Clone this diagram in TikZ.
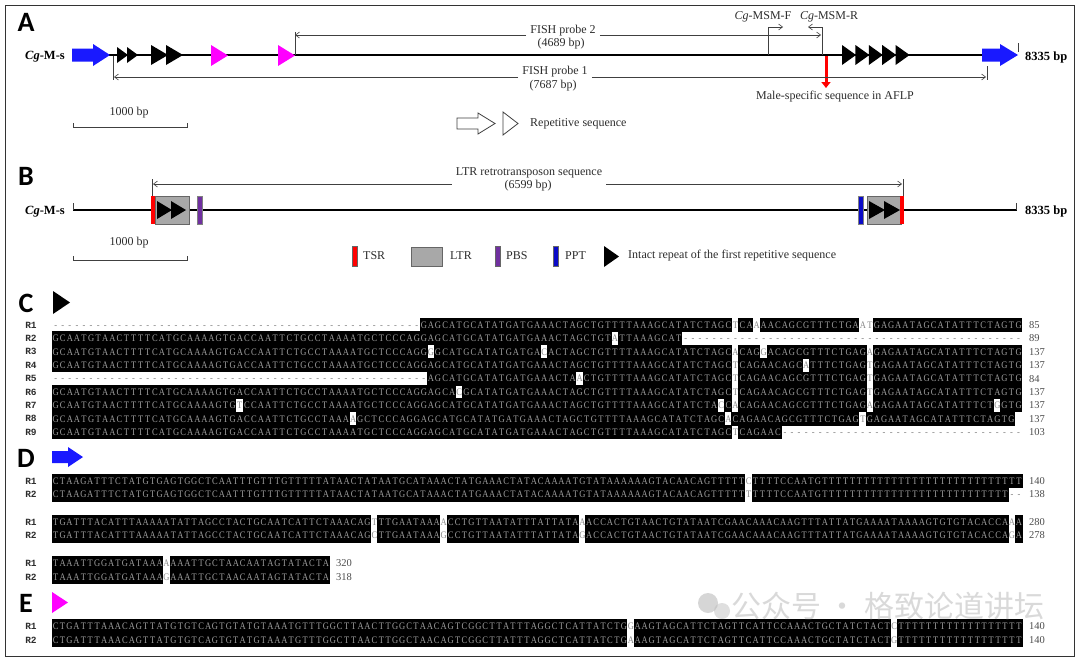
\documentclass[tikz,border=0pt]{standalone}
\usepackage{fontspec}
\setmainfont{Liberation Serif}
\newfontfamily\seqfont{Liberation Serif}[FakeStretch=0.85]
\newfontfamily\rlabfont{Liberation Mono}
\newfontfamily\panelfont{Carlito}
\newfontfamily\cjkfont{Noto Sans CJK SC}
\usetikzlibrary{arrows.meta}
\definecolor{onblk}{RGB}{160,160,160}
\definecolor{onwht}{RGB}{135,135,135}
\definecolor{txtgray}{RGB}{45,45,45}
\definecolor{arrblue}{RGB}{25,25,255}
\definecolor{mag}{RGB}{255,0,255}
\definecolor{pbs}{RGB}{112,48,160}
\definecolor{ppt}{RGB}{10,10,200}
\definecolor{ltrgray}{RGB}{168,168,168}
\tikzset{
 seqrow/.style={font=\seqfont\fontsize{10}{10}\selectfont, inner sep=0pt, text height=6.6pt, text depth=0pt, anchor=west},
 rowlab/.style={font=\rlabfont\bfseries\fontsize{9.5}{9.5}\selectfont, text=txtgray, inner sep=0pt},
 numlab/.style={font=\fontsize{10.5}{10.5}\selectfont, text=black!70, anchor=west, inner sep=0pt},
 panel/.style={font=\panelfont\bfseries\fontsize{28}{28}\selectfont, inner sep=0pt},
 ann/.style={font=\fontsize{12}{12}\selectfont, text=txtgray, inner xsep=4pt, inner ysep=1pt},
 boldlab/.style={font=\bfseries\fontsize{12.5}{12.5}\selectfont, inner sep=0pt},
 thinarr/.style={draw=black!75, line width=0.6pt, -{Straight Barb[length=4pt,width=6pt]}},
 tick/.style={draw=black!75, line width=0.6pt},
 mainline/.style={draw=black, line width=1.8pt},
 scalebar/.style={draw=black!75, line width=0.7pt},
 frame/.style={draw=black!80, line width=1.4pt},
 ltrbox/.style={fill=ltrgray, draw=black!60, line width=0.7pt},
}
\newlength\dnaw
\newcommand\dnach[2]{\makebox[\dnaw][c]{\textcolor{#1}{#2}}}
\newcommand\dnafill[4]{\fill[black] ({#1-0.3},{#2-#4/2-0.3}) rectangle ({#1+#3+0.3},{#2+#4/2+0.3});}
\newcommand\dnanode[4]{\node[seqrow] (#1) at (#2,#3) {#4};}
\newcommand\blockarrow[8][fill=black]{\path[#1] (#2,#7) -- (#4,#7) -- (#4,#5) -- (#3,{(#5+#6)/2}) -- (#4,#6) -- (#4,#8) -- (#2,#8) -- cycle;}
\newcommand\tri[5][fill=black]{\path[#1] (#2,#4) -- (#3,{(#4+#5)/2}) -- (#2,#5) -- cycle;}
\ExplSyntaxOn
\int_new:N \l_dna_i_int
\tl_new:N \l_dna_x_tl
\tl_new:N \l_dna_txt_tl
\str_new:N \l_dna_s_str
\cs_new:Npn \dashes #1 { \prg_replicate:nn {#1} {-} }
\cs_new:Npn \Ts #1 { \prg_replicate:nn {#1} {T} }
\NewDocumentCommand \dnarow { m m m m m m }
 {
  \str_set:Nx \l_dna_s_str {#6}
  \tl_clear:N \l_dna_txt_tl
  \int_zero:N \l_dna_i_int
  \dim_set:Nn \dnaw {#4pt}
  \str_map_inline:Nn \l_dna_s_str
   {
    \int_incr:N \l_dna_i_int
    \str_if_in:nnTF {ACGT} {##1}
     {
      \tl_set:Nx \l_dna_x_tl { \fp_eval:n { (#2) + (\l_dna_i_int - 1) * (#4) } }
      \exp_args:NV \dnafill \l_dna_x_tl {#3} {#4} {#5}
      \tl_put_right:Nn \l_dna_txt_tl { \dnach{onblk}{##1} }
     }
     {
      \str_if_eq:nnTF {##1} {-}
       { \tl_put_right:Nn \l_dna_txt_tl { \dnach{onwht}{-} } }
       { \tl_put_right:Nx \l_dna_txt_tl { \exp_not:N \dnach{onwht}{ \str_uppercase:n {##1} } } }
     }
   }
  \exp_args:NnnnV \dnanode {#1} {#2} {#3} \l_dna_txt_tl
 }
\ExplSyntaxOff
\def\cA{GCAATGTAACTTTTCATGCAAAAGTGACCAATTCTGCCTAAAATGCTCCCAGG}
\def\cB{AGCATGCATATGATGAAACTAGCTGTTTTAAAGCATATCTAGC}
\def\cC{CAGAACAGCGTTTCTGAG}
\def\cD{GAGAATAGCATATTTCTAGTG}
\def\dA{CTAAGATTTCTATGTGAGTGGCTCAATTTGTTTGTTTTTATAACTATAATGCATAAACTATGAAACTATACAAAATGTATAAAAAAGTACAACAGTTTTT}
\def\dB{TGATTTACATTTAAAAATATTAGCCTACTGCAATCATTCTAAACAG}
\def\dC{ACCACTGTAACTGTATAATCGAACAAACAAGTTTATTATGAAAATAAAAGTGTGTACACCA}
\def\eA{CTGATTTAAACAGTTATGTGTCAGTGTATGTAAATGTTTGGCTTAACTTGGCTAACAGTCGGCTTATTTAGGCTCATTATCTG}
\def\eB{AAGTAGCATTCTAGTTCATTCCAAACTGCTATCTACT}
\begin{document}
\begin{tikzpicture}[x=1pt,y=-1pt]
\useasboundingbox (0,0) rectangle (1080,662);
\fill[white] (0,0) rectangle (1080,662);
\draw[frame] (5.5,5.5) rectangle (1074.5,656.5);

% ---------------- Panel A
\node[panel] (labA) at (26,22) {A};
\draw[mainline] (108,55) -- (984,55);
\node[boldlab, anchor=east] (cgA) at (65,57) {\textit{Cg}-M-s};
\blockarrow[fill=arrblue]{72}{110}{93}{44}{66}{48.5}{61.5}
\tri{117}{128}{47}{63}
\tri{127}{138}{47}{63}
\tri{151}{168}{45}{65}
\tri{166}{183}{45}{65}
\tri[fill=mag]{211}{228}{45}{66}
\tri[fill=mag]{278}{295}{45}{66}
\foreach \i in {0,...,4} {\tri{842+13.4*\i}{856+13.4*\i}{45}{65}}
\blockarrow[fill=arrblue]{982}{1018}{1000}{44}{66}{48.5}{61.5}
\coordinate (endA) at (1018.5,43);
\draw[tick] (endA) -- ++(0,9);
\node[boldlab, anchor=west] (lenA) at (1025,57) {8335 bp};
% FISH probe 2
\coordinate (p2L) at (295,35);
\coordinate (p2R) at (821,35);
\draw[tick] (295,32) -- (295,55);
\node[ann] (fp2) at (563,31) {FISH probe 2};
\node[ann] (fp2b) at (561,44) {(4689 bp)};
\draw[thinarr] (fp2.west |- p2L) -- (p2L);
\draw[thinarr] (fp2.east |- p2R) -- (p2R);
% primers
\coordinate (fB) at (768,55);
\coordinate (fT) at (768,27);
\coordinate (fE) at (783,27);
\coordinate (rB) at (822,55);
\coordinate (rT) at (822,27);
\coordinate (rE) at (808,27);
\draw[thinarr] (fB) -- (fT) -- (fE);
\draw[thinarr] (rB) -- (rT) -- (rE);
\node[ann] (prF) at (763,17) {\textit{Cg}-MSM-F};
\node[ann] (prR) at (829,17) {\textit{Cg}-MSM-R};
% male-specific
\coordinate (msT) at (826,56);
\coordinate (msB) at (826,88);
\draw[draw=red, line width=3pt, -{Triangle[length=6pt,width=9pt]}] (msT) -- (msB);
\node[ann] (msl) at (835,97) {Male-specific sequence in AFLP};
% FISH probe 1
\coordinate (p1L) at (114,77);
\coordinate (p1R) at (986,77);
\draw[tick] (113,56) -- (113,80);
\draw[tick] (987.5,66) -- (987.5,80);
\node[ann] (fp1) at (555,72) {FISH probe 1};
\node[ann] (fp1b) at (553,86) {(7687 bp)};
\draw[thinarr] (fp1.west |- p1L) -- (p1L);
\draw[thinarr] (fp1.east |- p1R) -- (p1R);
% scale bar A
\node[ann] (sbA) at (129,113) {1000 bp};
\draw[scalebar] (73,123) -- (73,127) -- (187,127) -- (187,123);
% legend A
\blockarrow[draw=black!75, line width=0.8pt, fill=white]{457}{495}{478}{113}{134}{118}{129}
\tri[draw=black!75, line width=0.8pt, fill=white]{503}{518}{112}{135}
\node[ann, anchor=west] (legA) at (526,123.5) {Repetitive sequence};

% ---------------- Panel B
\node[panel] (labB) at (26,176) {B};
\draw[mainline] (73,210) -- (1017,210);
\draw[tick] (73.3,203) -- (73.3,210);
\draw[tick] (1016.7,203) -- (1016.7,210);
\node[boldlab, anchor=east] (cgB) at (65,211.5) {\textit{Cg}-M-s};
\node[boldlab, anchor=west] (lenB) at (1025,211.5) {8335 bp};
\path[ltrbox] (155,196) rectangle (189,224);
\fill[red] (151,196) rectangle (155,224);
\tri{157}{172}{201}{219}
\tri{171}{186}{201}{219}
\path[fill=pbs, draw=black!50, line width=0.4pt] (197,196) rectangle (202,224);
\path[fill=ppt, draw=black!50, line width=0.4pt] (858,196) rectangle (863,224);
\path[ltrbox] (867,196) rectangle (901,224);
\fill[red] (900,196) rectangle (904,224);
\tri{869}{885}{201}{219}
\tri{884}{900}{201}{219}
\coordinate (ltrL) at (153,184);
\coordinate (ltrR) at (902,184);
\draw[tick] (152.5,179) -- (152.5,196);
\draw[tick] (903.5,179) -- (903.5,196);
\node[ann] (ltr) at (529,173) {LTR retrotransposon sequence};
\node[ann] (ltrb) at (528,186) {(6599 bp)};
\draw[thinarr] (ltr.west |- ltrL) -- (ltrL);
\draw[thinarr] (ltr.east |- ltrR) -- (ltrR);
\node[ann] (sbB) at (129,243) {1000 bp};
\draw[scalebar] (73,256) -- (73,260) -- (187,260) -- (187,256);
% legend B
\path[fill=red, draw=black!60, line width=0.4pt] (352,246) rectangle (357,266);
\node[ann, anchor=west] (lgTSR) at (359,256) {TSR};
\path[ltrbox] (411,247) rectangle (442,266);
\node[ann, anchor=west] (lgLTR) at (446,256) {LTR};
\path[fill=pbs, draw=black!60, line width=0.4pt] (495,246) rectangle (500,266);
\node[ann, anchor=west] (lgPBS) at (502,256) {PBS};
\path[fill=ppt, draw=black!60, line width=0.4pt] (553,246) rectangle (558,266);
\node[ann, anchor=west] (lgPPT) at (561,256) {PPT};
\tri{604}{619}{246}{267}
\node[ann, anchor=west] (lgRep) at (624,256) {Intact repeat of the first repetitive sequence};

% ---------------- Panel C
\node[panel] (labC) at (26,303) {C};
\tri{53}{70}{291}{314}
\foreach \k in {1,...,9} {\node[rowlab] (rC\k) at (31,{325+13.4*(\k-1)}) {R\k};}
\dnarow{sC1}{52}{325}{7.08}{13.4}{\dashes{52}G\cB tCAaAACAGCGTTTCTGAat\cD}
\dnarow{sC2}{52}{338.4}{7.08}{13.4}{\cA AGCATGCATATGATGAAACTAGCTGTaTTAAAGCAT\dashes{48}}
\dnarow{sC3}{52}{351.8}{7.08}{13.4}{\cA gGCATGCATATGATGAcACTAGCTGTTTTAAAGCATATCTAGCaCAGgACAGCGTTTCTGAGa\cD}
\dnarow{sC4}{52}{365.2}{7.08}{13.4}{\cA\cB tCAGAACAGCaTTTCTGAGt\cD}
\dnarow{sC5}{52}{378.6}{7.08}{13.4}{\dashes{53}AGCATGCATATGATGAAACTAaCTGTTTTAAAGCATATCTAGCt\cC t\cD}
\dnarow{sC6}{52}{392}{7.08}{13.4}{\cA AGCAcGCATATGATGAAACTAGCTGTTTTAAAGCATATCTAGCt\cC t\cD}
\dnarow{sC7}{52}{405.4}{7.08}{13.4}{GCAATGTAACTTTTCATGCAAAAGTGtCCAATTCTGCCTAAAATGCTCCCAGGAGCATGCATATGATGAAACTAGCTGTTTTAAAGCATATCTAcCa\cC aGAGAATAGCATATTTCTgGTG}
\dnarow{sC8}{52}{418.8}{7.08}{13.4}{GCAATGTAACTTTTCATGCAAAAGTGACCAATTCTGCCTAAAaGCTCCCAGG\cB a\cC t\cD}
\dnarow{sC9}{52}{432.2}{7.08}{13.4}{\cA\cB tCAGAAC\dashes{34}}
\node[numlab] (nC1) at (1029,325) {85};
\node[numlab] (nC2) at (1029,338.4) {89};
\node[numlab] (nC3) at (1029,351.8) {137};
\node[numlab] (nC4) at (1029,365.2) {137};
\node[numlab] (nC5) at (1029,378.6) {84};
\node[numlab] (nC6) at (1029,392) {137};
\node[numlab] (nC7) at (1029,405.4) {137};
\node[numlab] (nC8) at (1029,418.8) {137};
\node[numlab] (nC9) at (1029,432.2) {103};

% ---------------- Panel D
\node[panel] (labD) at (26,458) {D};
\blockarrow[fill=arrblue]{52}{83}{68}{447}{467}{451}{463}
\node[rowlab] (rD1a) at (31,481) {R1};
\node[rowlab] (rD2a) at (31,494.5) {R2};
\node[rowlab] (rD1b) at (31,522) {R1};
\node[rowlab] (rD2b) at (31,535.5) {R2};
\node[rowlab] (rD1c) at (31,563.5) {R1};
\node[rowlab] (rD2c) at (31,577) {R2};
\dnarow{sD1a}{52}{481}{6.93}{13.5}{\dA cTTTTCCAATG\Ts{29}}
\dnarow{sD2a}{52}{494.5}{6.93}{13.5}{\dA tTTTTCCAATG\Ts{27}--}
\dnarow{sD1b}{52}{522}{6.93}{13.5}{\dB tTTGAATAAAaCCTGTTAATATTTATTATAa\dC aA}
\dnarow{sD2b}{52}{535.5}{6.93}{13.5}{\dB cTTGAATAAAgCCTGTTAATATTTATTATAg\dC gA}
\dnarow{sD1c}{52}{563.5}{6.93}{13.5}{TAAATTGGATGATAAAaAAATTGCTAACAATAGTATACTA}
\dnarow{sD2c}{52}{577}{6.93}{13.5}{TAAATTGGATGATAAAgAAATTGCTAACAATAGTATACTA}
\node[numlab] (nD1a) at (1029,481) {140};
\node[numlab] (nD2a) at (1029,494.5) {138};
\node[numlab] (nD1b) at (1029,522) {280};
\node[numlab] (nD2b) at (1029,535.5) {278};
\node[numlab] (nD1c) at (336,563.5) {320};
\node[numlab] (nD2c) at (336,577) {318};

% ---------------- Panel E
\node[panel] (labE) at (26,603) {E};
\tri[fill=mag]{52}{68}{592}{613}
\node[rowlab] (rE1) at (31,626.5) {R1};
\node[rowlab] (rE2) at (31,640) {R2};
\dnarow{sE1}{52}{626.5}{6.93}{13.5}{\eA g\eB c\Ts{18}}
\dnarow{sE2}{52}{640}{6.93}{13.5}{\eA a\eB g\Ts{18}}
\node[numlab] (nE1) at (1029,626.5) {140};
\node[numlab] (nE2) at (1029,640) {140};

% ---------------- watermark
\begin{scope}[opacity=0.45]
\fill[gray!70] (708,603) circle (10);
\fill[gray!55] (722,611) circle (8);
\node[font=\cjkfont\fontsize{30}{30}\selectfont, text=gray!65, anchor=west, inner sep=0pt] (wm) at (731,606) {公众号 · 格致论道讲坛};
\end{scope}
\end{tikzpicture}
\end{document}
